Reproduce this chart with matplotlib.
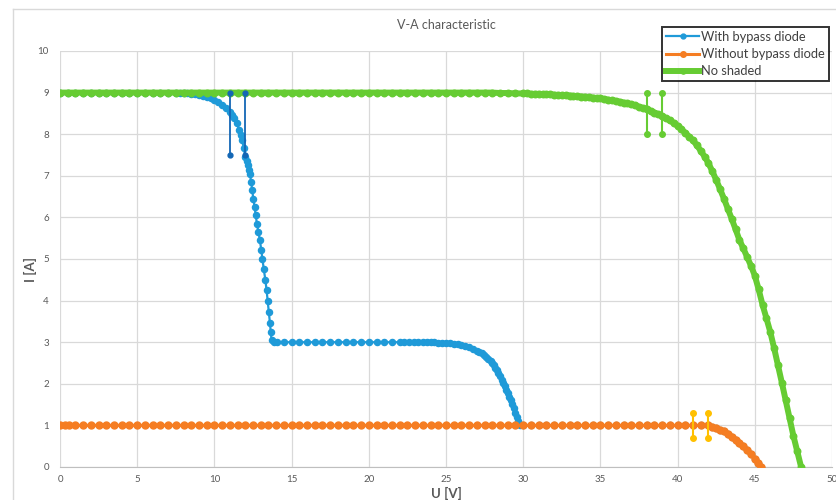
import matplotlib
matplotlib.use("Agg")
import matplotlib.pyplot as plt
from matplotlib.lines import Line2D

plt.rcParams['font.family'] = ['Lato', 'DejaVu Sans']

# --- data ---
# No shaded (green): flat part, then the bend down to 48 V
green_flat_u = [0, 0.5, 1, 1.5, 2, 2.5, 3, 3.5, 4, 4.5, 5, 5.5, 6, 6.5, 7, 7.5, 8, 8.5, 9,
                9.5, 10, 10.5, 11, 11.5, 12, 12.5, 13, 13.5, 14, 14.5, 15, 15.5, 16, 16.5,
                17, 17.5, 18, 18.5, 19, 19.5, 20, 20.5, 21, 21.5, 22, 22.5, 23, 23.5, 24,
                24.5, 25, 25.5, 26, 26.5, 27, 27.5, 28, 28.5, 29, 29.5]
green_flat_i = [9.0] * 57 + [8.99, 8.99, 8.98]
green_bend_u = [30, 30.25, 30.5, 30.75, 31, 31.25, 31.5, 31.75, 32, 32.25, 32.5, 32.75,
                33, 33.25, 33.5, 33.75, 34, 34.25, 34.5, 34.75, 35, 35.25, 35.5, 35.75,
                36, 36.25, 36.5, 36.75, 37, 37.25, 37.5, 37.75, 38, 38.25, 38.5, 38.75,
                39, 39.25, 39.5, 39.75, 40, 40.25, 40.5, 40.75, 41, 41.25, 41.5, 41.75,
                42, 42.25, 42.5, 42.75, 43, 43.25, 43.5, 43.75, 44, 44.25, 44.5, 44.75,
                45, 45.25, 45.5, 45.75, 46, 46.25, 46.5, 46.75, 47, 47.25, 47.5, 47.75, 48]
green_bend_i = [8.98, 8.98, 8.97, 8.97, 8.97, 8.96, 8.96, 8.955, 8.95, 8.945, 8.94, 8.935,
                8.93, 8.92, 8.91, 8.905, 8.9, 8.89, 8.88, 8.87, 8.86, 8.845, 8.83, 8.815,
                8.8, 8.78, 8.76, 8.74, 8.72, 8.69, 8.66, 8.63, 8.6, 8.56, 8.52, 8.48,
                8.43, 8.38, 8.33, 8.27, 8.2, 8.12, 8.03, 7.94, 7.85, 7.73, 7.6, 7.46,
                7.3, 7.11, 6.9, 6.68, 6.45, 6.21, 5.97, 5.72, 5.46, 5.26, 5.05, 4.84,
                4.6, 4.27, 3.9, 3.58, 3.25, 2.86, 2.45, 2.03, 1.6, 1.18, 0.75, 0.38, 0.0]

# Without bypass diode (orange)
orange_u = [0, 0.3, 0.6, 1, 1.5, 2, 2.5, 3, 3.5, 4, 4.5, 5, 5.5, 6, 6.5, 7, 7.5, 8, 8.5, 9,
            9.5, 10, 10.5, 11, 11.5, 12, 12.5, 13, 13.5, 14, 14.5, 15, 15.5, 16, 16.5, 17,
            17.5, 18, 18.5, 19, 19.5, 20, 20.5, 21, 21.5, 22, 22.5, 23, 23.5, 24, 24.5, 25,
            25.5, 26, 26.5, 27, 27.5, 28, 28.5, 29, 29.5, 30, 30.5, 31, 31.5, 32, 32.5, 33,
            33.5, 34, 34.5, 35, 35.5, 36, 36.5, 37, 37.5, 38, 38.5, 39, 39.5, 40, 40.5, 41,
            41.5, 42, 42.25, 42.5, 42.75, 43, 43.25, 43.5, 43.75, 44, 44.25, 44.5, 44.75,
            45, 45.2, 45.4]
orange_i = [1.0] * 86 + [0.97, 0.94, 0.9, 0.86, 0.8, 0.73, 0.66, 0.58, 0.5, 0.41, 0.31,
                         0.2, 0.1, 0.0]

# With bypass diode (blue), up to where it joins the orange curve at 1 A
blue_top_u = [0, 0.5, 1, 1.5, 2, 2.5, 3, 3.5, 4, 4.5, 5, 5.5, 6, 6.5, 7]
blue_top_i = [9.0] * 15
blue_knee_u = [7.5, 7.75, 8, 8.25, 8.5, 8.75, 9, 9.25, 9.5, 9.75, 10, 10.25, 10.5, 10.75,
               11, 11.15, 11.3, 11.45, 11.6, 11.7, 11.8, 11.9, 12]
blue_knee_i = [9.0, 8.995, 8.99, 8.98, 8.97, 8.955, 8.94, 8.915, 8.89, 8.86, 8.82, 8.77,
               8.7, 8.62, 8.54, 8.47, 8.4, 8.27, 8.1, 7.98, 7.85, 7.67, 7.45]
blue_drop_u = [12.08, 12.15, 12.22, 12.3, 12.38, 12.45, 12.52, 12.6, 12.68, 12.75, 12.85,
               12.95, 13.03, 13.1, 13.2, 13.3, 13.38, 13.45, 13.53, 13.6, 13.65, 13.7,
               13.85, 14.05]
blue_drop_i = [7.35, 7.25, 7.15, 7.05, 6.85, 6.65, 6.45, 6.25, 6.05, 5.85, 5.65, 5.45,
               5.22, 5.0, 4.75, 4.5, 4.25, 4.0, 3.72, 3.45, 3.25, 3.05, 3.0, 3.0]
blue_mid_u = [14.5, 15, 15.5, 16, 16.5, 17, 17.5, 18, 18.5, 19, 19.5, 20, 20.5, 21, 21.5,
              22, 22.3, 22.6, 22.9, 23.2, 23.5, 23.75]
blue_mid_i = [3.0] * 22
blue_fall_u = [24, 24.25, 24.5, 24.75, 25, 25.25, 25.5, 25.75, 26, 26.25, 26.5, 26.75, 27,
               27.15, 27.3, 27.45, 27.6, 27.75, 27.9, 28, 28.1, 28.2, 28.3, 28.4, 28.5,
               28.6, 28.7, 28.8, 28.9, 29, 29.1, 29.2, 29.3, 29.4, 29.5, 29.6, 29.68,
               29.75, 29.8]
blue_fall_i = [3.0, 2.995, 2.99, 2.985, 2.98, 2.97, 2.96, 2.945, 2.93, 2.905, 2.88, 2.84,
               2.8, 2.77, 2.73, 2.7, 2.65, 2.6, 2.54, 2.5, 2.44, 2.38, 2.32, 2.25, 2.18,
               2.1, 2.02, 1.94, 1.85, 1.77, 1.68, 1.6, 1.51, 1.42, 1.31, 1.2, 1.11, 1.03,
               1.0]

# vertical bars drawn on the chart
bar_blue_u, bar_blue_lo, bar_blue_hi = [11, 12], 7.5, 9
bar_green_u, bar_green_lo, bar_green_hi = [38, 39], 8, 9
bar_gold_u, bar_gold_lo, bar_gold_hi = [41, 42], 0.7, 1.3

x_ticks = [0, 5, 10, 15, 20, 25, 30, 35, 40, 45, 50]
y_ticks = [0, 1, 2, 3, 4, 5, 6, 7, 8, 9, 10]

BLUE = '#1f9ad8'
ORANGE = '#f57d22'
GREEN = '#66cc33'
DARKBLUE = '#1467b5'
GOLD = '#ffc000'
GRAY = '#595959'

green_u = green_flat_u + green_bend_u
green_i = green_flat_i + green_bend_i

# blue continues along the orange curve after ~30 V
tail_u = [u for u in orange_u if u >= 30]
tail_i = [i for u, i in zip(orange_u, orange_i) if u >= 30]
blue_u = blue_top_u + blue_knee_u + blue_drop_u + blue_mid_u + blue_fall_u + tail_u
blue_i = blue_top_i + blue_knee_i + blue_drop_i + blue_mid_i + blue_fall_i + tail_i

fig = plt.figure(figsize=(8.36, 5.0), dpi=100)
ax = fig.add_axes([60 / 836, 1 - 467 / 500, 772 / 836, 416 / 500])

ax.plot(blue_u, blue_i, color=BLUE, lw=1.6, marker='o', ms=4.4,
        mec=BLUE, zorder=3, label='With bypass diode')
ax.plot(orange_u, orange_i, color=ORANGE, lw=2.2, marker='o', ms=5, mec=ORANGE,
        zorder=4, label='Without bypass diode')
ax.plot(green_u, green_i, color=GREEN, lw=4.3, marker='o', ms=4.7, mec=GREEN,
        zorder=5, label='No shaded')

for u in bar_blue_u:
    ax.plot([u, u], [bar_blue_lo, bar_blue_hi], color=DARKBLUE, lw=1.3, marker='o',
            ms=3.5, zorder=6)
for u in bar_green_u:
    ax.plot([u, u], [bar_green_lo, bar_green_hi], color=GREEN, lw=1.5, marker='o',
            ms=4, zorder=6)
for u in bar_gold_u:
    ax.plot([u, u], [bar_gold_lo, bar_gold_hi], color=GOLD, lw=1.5, marker='o',
            ms=4, zorder=6)

ax.set_xlim(0, 50)
ax.set_ylim(0, 10)
ax.set_xticks(x_ticks)
ax.set_yticks(y_ticks)
ax.grid(True, color='#d9d9d9', lw=0.9)
ax.set_axisbelow(True)
for s in ['top', 'right', 'left']:
    ax.spines[s].set_visible(False)
ax.spines['bottom'].set_color('#bfbfbf')
ax.tick_params(length=0, labelsize=7, colors=GRAY, pad=6)
ax.tick_params(axis='y', pad=8)

fig.text(446 / 836, 1 - 25 / 500, 'V-A characteristic', ha='center', va='center',
         fontsize=9, color=GRAY)
fig.text(30 / 836, 1 - 270 / 500, 'I [A]', ha='center', va='center', rotation=90,
         fontsize=9.5, fontweight='bold', color=GRAY)
fig.text(446 / 836, 1 - 493 / 500, 'U [V]', ha='center', va='center',
         fontsize=9.5, fontweight='bold', color=GRAY)

# chart area border (left and top edges are visible)
fig.add_artist(Line2D([13 / 836, 13 / 836], [0, 1 - 9 / 500], color='#d9d9d9', lw=1))
fig.add_artist(Line2D([13 / 836, 1], [1 - 9 / 500, 1 - 9 / 500], color='#d9d9d9', lw=1))

leg = fig.legend(loc='upper left', bbox_to_anchor=(662 / 836, 1 - 27 / 500),
                 fontsize=9.3, frameon=True, fancybox=False, borderpad=0.3,
                 handlelength=2.6, handletextpad=0.15, labelspacing=0.4,
                 borderaxespad=0, markerscale=0.8)
leg.get_frame().set_edgecolor('black')
leg.get_frame().set_linewidth(1.4)
for t in leg.get_texts():
    t.set_color('#404040')

fig.savefig('out.png', dpi=100)
